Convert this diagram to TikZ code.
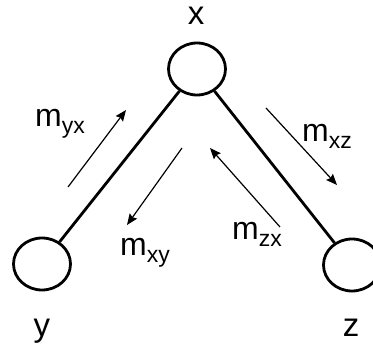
\documentclass[tikz,border=0pt]{standalone}
\usepackage{fontspec}
\setmainfont{Liberation Sans}
\usetikzlibrary{shapes.geometric,arrows.meta}
\newcommand{\msub}[1]{{\fontsize{32}{32}\selectfont m}\raisebox{-7pt}{\fontsize{23}{23}\selectfont #1}}
\begin{document}
\begin{tikzpicture}[x=1pt,y=-1pt,
  vertex/.style={ellipse,draw,line width=2.8pt,inner sep=0pt,minimum width=57pt,minimum height=52pt},
  edge/.style={line width=2.8pt},
  msg/.style={line width=1.2pt,-{Stealth[length=11pt,width=9pt,inset=1.5pt]}},
  lab/.style={inner sep=0pt,font=\fontsize{33}{33}\selectfont},
  mlab/.style={inner sep=0pt,anchor=base west}]
\useasboundingbox (0,0) rectangle (373,347);
\node[vertex] (x) at (197,69) {};
\node[vertex] (y) at (42,264) {};
\node[vertex] (z) at (352,265) {};
\draw[edge] (x) -- (y);
\draw[edge] (x) -- (z);
\node[lab,anchor=base] (lx) at (196,25) {x};
\node[lab,anchor=base] (ly) at (42,337) {y};
\node[lab,anchor=base] (lz) at (351,337) {z};
\coordinate (a1) at (68,187); \coordinate (a2) at (126,110);
\coordinate (b1) at (182,148); \coordinate (b2) at (127,225);
\coordinate (c1) at (280,227); \coordinate (c2) at (210,148);
\coordinate (d1) at (266,108); \coordinate (d2) at (337,185);
\draw[msg] (a1) -- (a2);
\draw[msg] (b1) -- (b2);
\draw[msg] (c1) -- (c2);
\draw[msg] (d1) -- (d2);
\node[mlab] (myx) at (35,127) {\msub{yx}};
\node[mlab] (mxz) at (302,142) {\msub{xz}};
\node[mlab] (mxy) at (120,256) {\msub{xy}};
\node[mlab] (mzx) at (232,240) {\msub{zx}};
\end{tikzpicture}
\end{document}
